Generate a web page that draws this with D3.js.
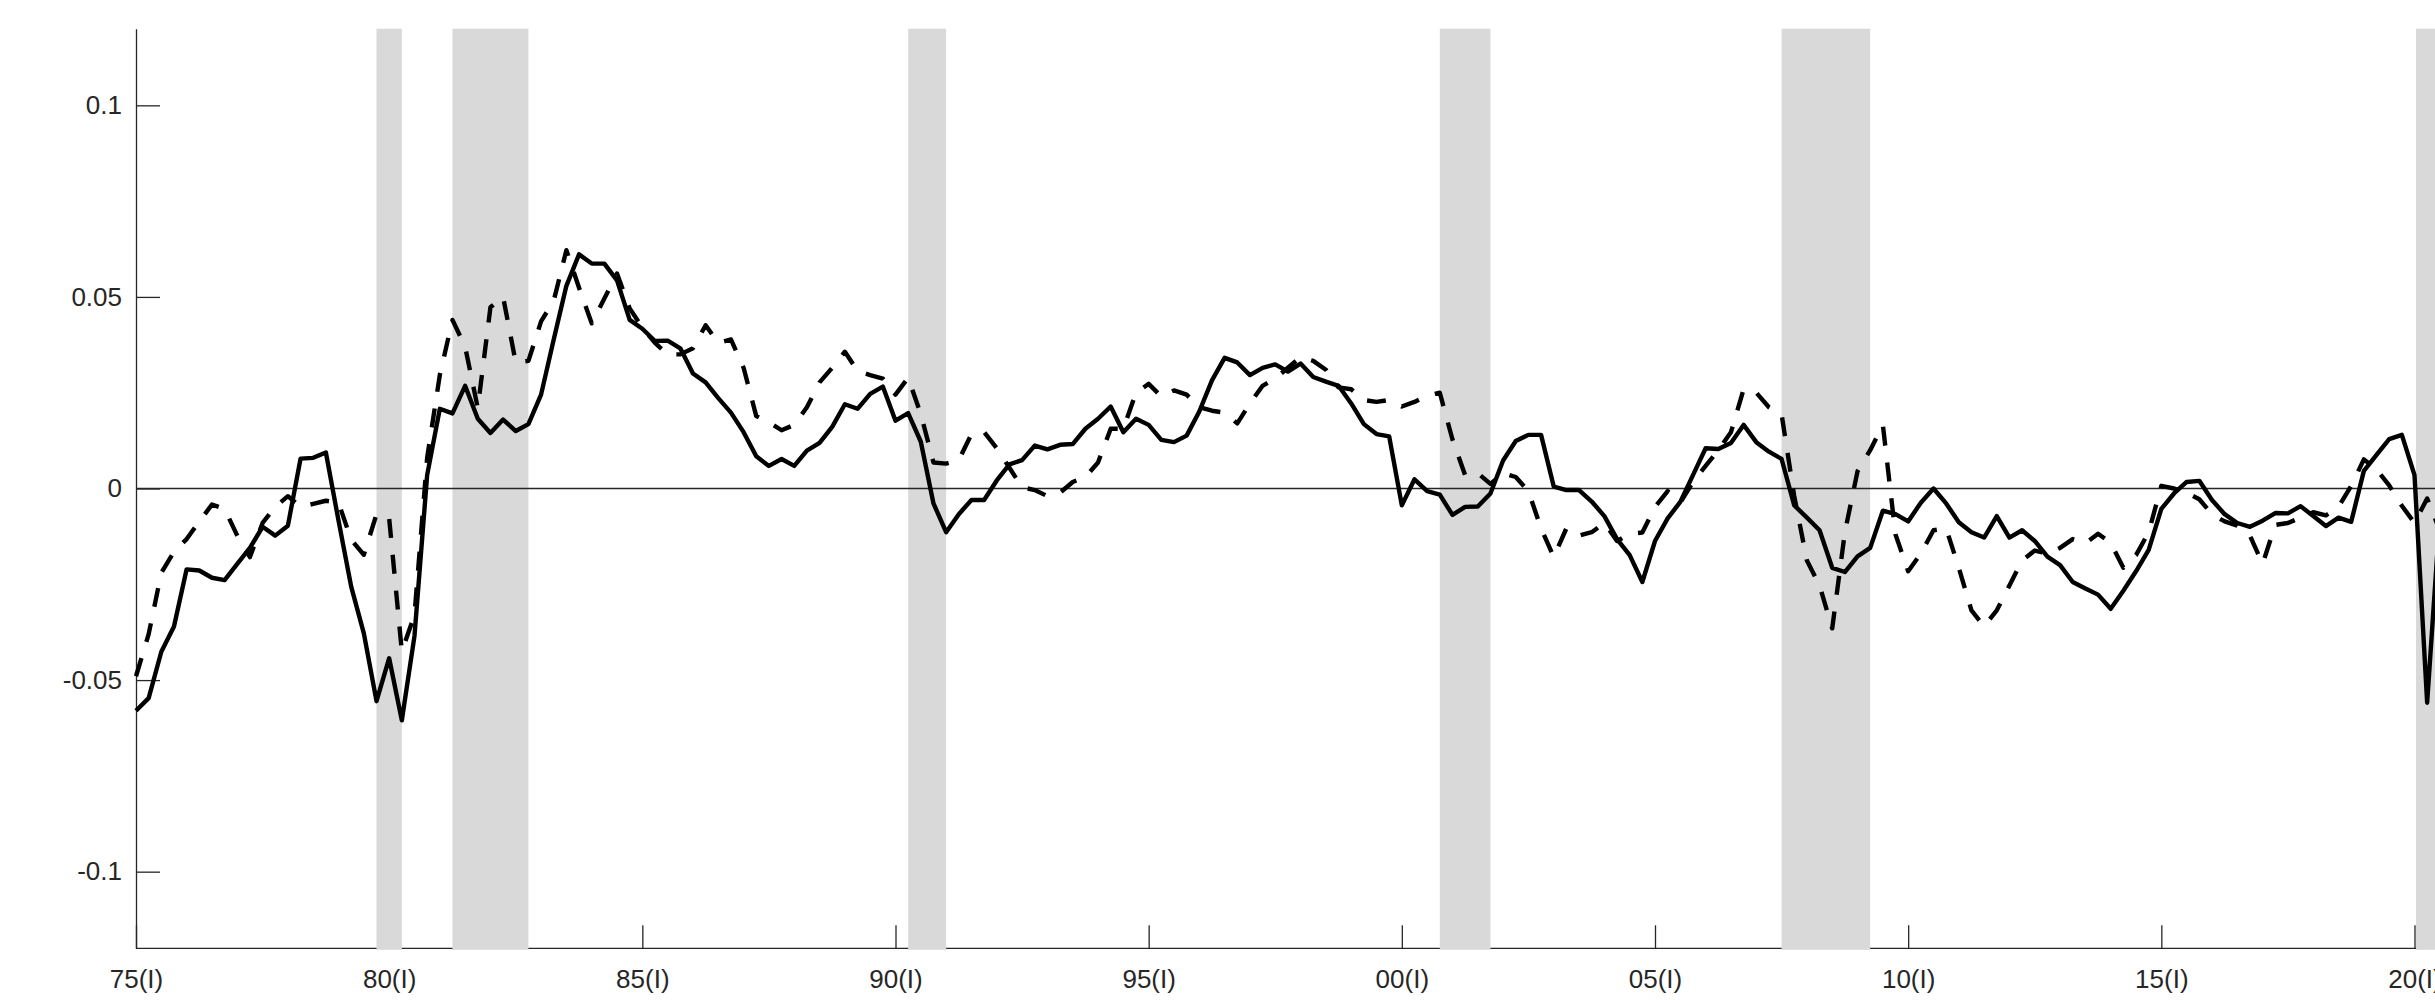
<!DOCTYPE html>
<html>
<head>
<meta charset="utf-8">
<script src="https://cdn.jsdelivr.net/npm/d3@7"></script>
<style>
  body { margin: 0; background: #fff; }
  svg text { font-family: "Liberation Sans", Arial, Helvetica, sans-serif; }
</style>
</head>
<body>
<div id="chart"></div>
<script>
// Quarterly series, first point is 1975(I)
const startYear = 1975;

const solid = [
  -0.058, -0.0547, -0.0426, -0.036, -0.0211, -0.0214, -0.0233, -0.0239, -0.0197, -0.0155,
  -0.010, -0.0123, -0.0097, 0.0078, 0.0080, 0.0094, -0.0084, -0.0256, -0.0378, -0.0555,
  -0.0443, -0.0605, -0.0385, 0.0035, 0.0208, 0.0196, 0.0268, 0.0182, 0.0145, 0.0180,
  0.0150, 0.0168, 0.0245, 0.0389, 0.0529, 0.0611, 0.0587, 0.0587, 0.0543, 0.0440,
  0.0417, 0.0385, 0.0386, 0.0366, 0.0300, 0.0277, 0.0236, 0.0198, 0.0147, 0.0084,
  0.0059, 0.0077, 0.0059, 0.0099, 0.0119, 0.0161, 0.0220, 0.0208, 0.0247, 0.0266,
  0.0177, 0.0197, 0.0122, -0.0039, -0.0114, -0.0067, -0.0030, -0.0030, 0.0021, 0.0063,
  0.0074, 0.0112, 0.0102, 0.0114, 0.0116, 0.0156, 0.0182, 0.0214, 0.0147, 0.0182,
  0.0166, 0.0127, 0.0121, 0.0138, 0.0201, 0.0282, 0.0341, 0.0329, 0.0296, 0.0315,
  0.0324, 0.0305, 0.0326, 0.0291, 0.0279, 0.0268, 0.0222, 0.0168, 0.0142, 0.0136,
  -0.0044, 0.0024, -0.0007, -0.0016, -0.0069, -0.0048, -0.0047, -0.0013, 0.0073, 0.0124,
  0.0140, 0.0140, 0.0005, -0.0004, -0.0004, -0.0034, -0.0072, -0.0132, -0.0174, -0.0244,
  -0.0137, -0.0078, -0.0035, 0.0035, 0.0105, 0.0103, 0.0119, 0.0166, 0.0121, 0.0096,
  0.0077, -0.0044, -0.0076, -0.0109, -0.0207, -0.0218, -0.0177, -0.0155, -0.0058, -0.0067,
  -0.0086, -0.0037, 0.0000, -0.0039, -0.0088, -0.0114, -0.0128, -0.0072, -0.0128, -0.0109,
  -0.0137, -0.0178, -0.0200, -0.0244, -0.0261, -0.0277, -0.0314, -0.0267, -0.0216, -0.0160,
  -0.0053, -0.0013, 0.0017, 0.0020, -0.0030, -0.0067, -0.0090, -0.0100, -0.0084, -0.0064,
  -0.0065, -0.0046, -0.0072, -0.0098, -0.0076, -0.0087, 0.0046, 0.0088, 0.0129, 0.0140,
  0.0035, -0.0559, -0.007
];

const dashed = [
  -0.049, -0.038, -0.022, -0.0165, -0.0132, -0.0086, -0.0042, -0.0053, -0.0123, -0.0179,
  -0.009, -0.0048, -0.002, -0.0048, -0.0040, -0.0032, -0.0037, -0.0134, -0.0173, -0.0067,
  -0.0078, -0.0425, -0.033, 0.008, 0.0296, 0.044, 0.037, 0.021, 0.0473, 0.050,
  0.0329, 0.0333, 0.0436, 0.049, 0.0622, 0.0524, 0.0431, 0.0496, 0.0561, 0.047,
  0.042, 0.038, 0.035, 0.035, 0.0366, 0.0426, 0.038, 0.0389, 0.0315, 0.0189,
  0.0173, 0.0152, 0.0166, 0.0212, 0.0277, 0.0315, 0.0357, 0.0307, 0.0296, 0.0287,
  0.0245, 0.0289, 0.0194, 0.0068, 0.0065, 0.0074, 0.0142, 0.0147, 0.0105, 0.0054,
  0.0003, -0.0004, -0.002, -0.0011, 0.0017, 0.003, 0.0068, 0.0156, 0.0156, 0.025,
  0.0273, 0.024, 0.0256, 0.0245, 0.0212, 0.0203, 0.0198, 0.017, 0.0222, 0.0268,
  0.0287, 0.0315, 0.0343, 0.0333, 0.031, 0.0264, 0.0259, 0.0231, 0.0226, 0.0231,
  0.0214, 0.0226, 0.0242, 0.025, 0.0128, 0.0035, 0.004, 0.0012, 0.004, 0.0030,
  -0.0007, -0.0104, -0.0179, -0.0104, -0.0123, -0.0114, -0.009, -0.0137, -0.0118, -0.0115,
  -0.0048, -0.0007, -0.0037, 0.0017, 0.0059, 0.010, 0.0147, 0.0259, 0.025, 0.0212,
  0.0194, -0.002, -0.0188, -0.0253, -0.0365, -0.0114, 0.0045, 0.010, 0.0166, -0.012,
  -0.0216, -0.017, -0.0109, -0.0104, -0.0207, -0.0318, -0.036, -0.0318, -0.0253, -0.0188,
  -0.0162, -0.017, -0.0155, -0.0132, -0.0143, -0.0118, -0.0142, -0.0207, -0.0174, -0.0114,
  0.0007, 0.0, -0.0011, -0.0028, -0.0067, -0.0086, -0.0097, -0.0123, -0.0197, -0.0095,
  -0.009, -0.0076, -0.0062, -0.007, -0.0048, 0.0007, 0.0076, 0.005, 0.0008, -0.0045,
  -0.009, -0.0026, -0.011
];

// recession bands, [start, end] in years
const recessions = [
  [1979.75, 1980.25], [1981.25, 1982.75], [1990.25, 1991.0],
  [2000.75, 2001.75], [2007.5, 2009.25], [2020.03, 2021.0]
];

const xTicks = [1975, 1980, 1985, 1990, 1995, 2000, 2005, 2010, 2015, 2020];
const xTickLabels = ["75(I)", "80(I)", "85(I)", "90(I)", "95(I)", "00(I)", "05(I)", "10(I)", "15(I)", "20(I)"];
const yTicks = [-0.1, -0.05, 0, 0.05, 0.1];
const yTickLabels = ["-0.1", "-0.05", "0", "0.05", "0.1"];

const width = 2435, height = 1000;
const plotLeft = 136, plotTop = 28.7, plotBottom = 948.3;
const axisColor = "#262626";

const svg = d3.select("#chart").append("svg")
    .attr("width", width)
    .attr("height", height)
    .style("display", "block");

const x = d3.scaleLinear().domain([1975, 2020]).range([plotLeft, 2414.5]);
const y = d3.scaleLinear().domain([-0.12, 0.12]).range([plotBottom, plotTop]);

// x axis, ticks point inward
const gx = svg.append("g")
    .attr("transform", `translate(0,${plotBottom})`)
    .call(d3.axisBottom(x)
        .tickValues(xTicks)
        .tickFormat((d, i) => xTickLabels[i])
        .tickSizeInner(-23)
        .tickSizeOuter(0));
gx.select(".domain").attr("d", `M${plotLeft},0H${width}`);
gx.selectAll("line, path").attr("stroke", axisColor).attr("stroke-width", 1.3);
gx.selectAll("text")
    .attr("y", 21)
    .attr("fill", axisColor)
    .style("font-size", "26px");

// y axis
const gy = svg.append("g")
    .attr("transform", `translate(${plotLeft},0)`)
    .call(d3.axisLeft(y)
        .tickValues(yTicks)
        .tickFormat((d, i) => yTickLabels[i])
        .tickSizeInner(-24)
        .tickSizeOuter(0)
        .tickPadding(14));
gy.selectAll("line, path").attr("stroke", axisColor).attr("stroke-width", 1.3);
gy.selectAll("text")
    .attr("fill", axisColor)
    .style("font-size", "26px");

// shaded recessions sit above the axes
svg.append("g").selectAll("rect")
    .data(recessions)
    .join("rect")
    .attr("x", d => x(d[0]))
    .attr("width", d => x(d[1]) - x(d[0]))
    .attr("y", plotTop)
    .attr("height", plotBottom - plotTop + 1.5)
    .attr("fill", "#d9d9d9");

// zero line
svg.append("line")
    .attr("x1", plotLeft).attr("x2", width)
    .attr("y1", y(0)).attr("y2", y(0))
    .attr("stroke", axisColor)
    .attr("stroke-width", 1.5);

const line = d3.line()
    .x((d, i) => x(startYear + i / 4))
    .y(d => y(d));

svg.append("path")
    .datum(dashed)
    .attr("d", line)
    .attr("fill", "none")
    .attr("stroke", "#000")
    .attr("stroke-width", 4.4)
    .attr("stroke-dasharray", "19,17")
    .attr("stroke-linejoin", "round");

svg.append("path")
    .datum(solid)
    .attr("d", line)
    .attr("fill", "none")
    .attr("stroke", "#000")
    .attr("stroke-width", 4.4)
    .attr("stroke-linejoin", "round");
</script>
</body>
</html>
